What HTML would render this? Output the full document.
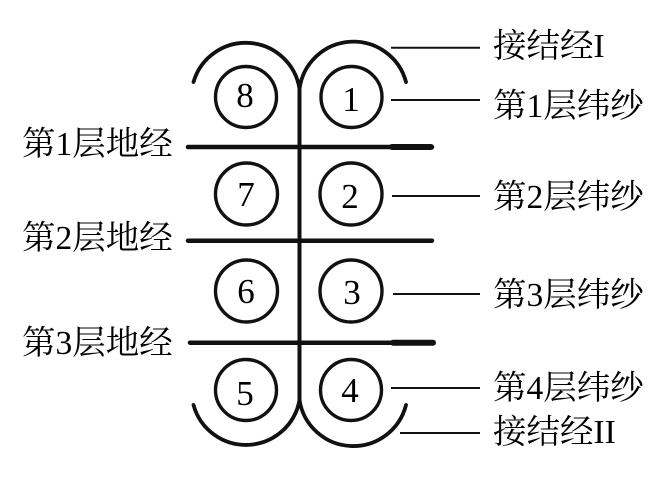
<!DOCTYPE html>
<html>
<head>
<meta charset="utf-8">
<style>
html,body{margin:0;padding:0;background:#fff;width:660px;height:479px;overflow:hidden}
svg{display:block}
text{font-family:"Liberation Serif","Noto Serif CJK SC",serif;font-size:33.5px;fill:#000}
.n{font-size:35px;text-anchor:middle}
</style>
</head>
<body>
<svg width="660" height="479" viewBox="0 0 660 479" xmlns="http://www.w3.org/2000/svg">
<g fill="none" stroke="#111" stroke-width="3.4">
<circle cx="246" cy="97" r="30.5"/>
<circle cx="351.5" cy="97" r="30.5"/>
<circle cx="246.5" cy="194" r="31"/>
<circle cx="351" cy="194" r="31"/>
<circle cx="246.5" cy="291" r="31"/>
<circle cx="351" cy="291" r="31"/>
<circle cx="246" cy="390" r="30.5"/>
<circle cx="351" cy="390" r="30.5"/>
</g>
<g fill="none" stroke="#111" stroke-width="3.8" stroke-linecap="round">
<path d="M193.500 82 A54.400 54.400 0 0 1 299.500 89"/>
<path d="M299.500 89 A54.400 54.400 0 0 1 406 82"/>
<path d="M193.500 405 A54.400 54.400 0 0 0 299.500 400"/>
<path d="M299.500 400 A54.400 54.400 0 0 0 406 405"/>
</g>
<g stroke="#111" fill="none">
<line x1="299.500" y1="88" x2="299.500" y2="402" stroke-width="4"/>
<line x1="188" y1="147" x2="432" y2="147" stroke-width="4.500" stroke-linecap="round"/>
<line x1="392" y1="147" x2="431" y2="147" stroke-width="6" stroke-linecap="round"/>
<line x1="188" y1="240.700" x2="432" y2="240.700" stroke-width="4.500" stroke-linecap="round"/>
<line x1="190" y1="342.700" x2="433" y2="342.700" stroke-width="4.500" stroke-linecap="round"/>
<line x1="393" y1="342.700" x2="433" y2="342.700" stroke-width="6" stroke-linecap="round"/>
</g>
<g stroke="#111" stroke-width="2">
<line x1="391" y1="47.700" x2="480" y2="47.700"/>
<line x1="391" y1="100" x2="480" y2="100"/>
<line x1="392" y1="196" x2="480" y2="196"/>
<line x1="393" y1="294" x2="480" y2="294"/>
<line x1="391" y1="388" x2="480" y2="388"/>
<line x1="400" y1="433" x2="480" y2="433"/>
</g>
<text class="n" x="245" y="107">8</text>
<text class="n" x="351" y="111">1</text>
<text class="n" x="246" y="206">7</text>
<text class="n" x="350" y="208">2</text>
<text class="n" x="246" y="303">6</text>
<text class="n" x="352" y="304">3</text>
<text class="n" x="245" y="405">5</text>
<text class="n" x="350" y="402">4</text>
<text x="493" y="57">接结经I</text>
<text x="493" y="117">第1层纬纱</text>
<text x="493" y="208">第2层纬纱</text>
<text x="493" y="306">第3层纬纱</text>
<text x="493" y="399">第4层纬纱</text>
<text x="493" y="443">接结经II</text>
<text x="22" y="155">第1层地经</text>
<text x="22" y="249">第2层地经</text>
<text x="22" y="354">第3层地经</text>
</svg>
</body>
</html>
